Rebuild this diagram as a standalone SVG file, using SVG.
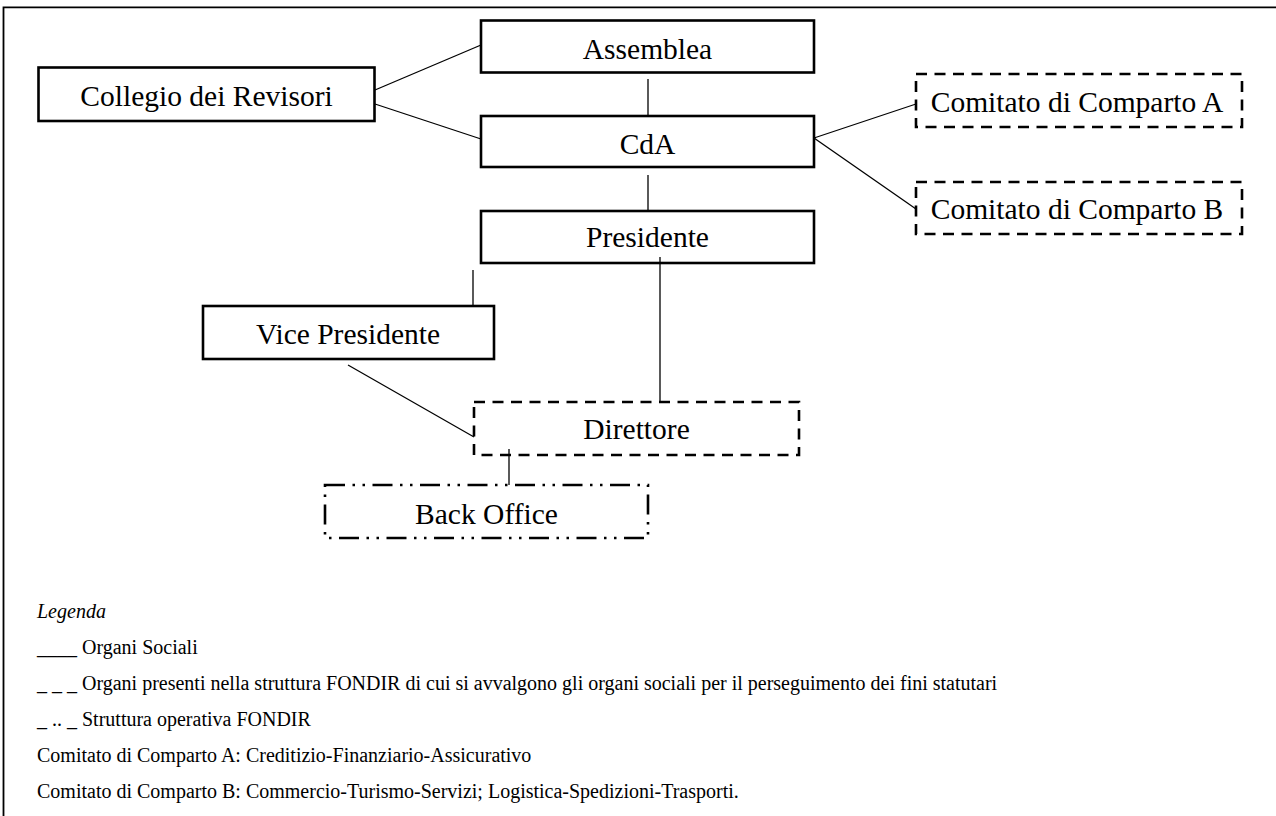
<svg xmlns="http://www.w3.org/2000/svg" width="1276" height="816" viewBox="0 0 1276 816">
<style>
.box{fill:#fff;stroke:#000;stroke-width:2.6}
.dash{stroke-dasharray:11 7.5}
.ldd{stroke-dasharray:20 7.5 2.5 7.5 2.5 7.5}
.lbl{font-family:"Liberation Serif","Times New Roman",serif;font-size:29.5px;fill:#000;text-anchor:middle}
.leg{font-family:"Liberation Serif","Times New Roman",serif;font-size:20px;fill:#000}
.con line{stroke:#000;stroke-width:1.3}
</style>
<rect width="1276" height="816" fill="#fff"/>
<path d="M3.5 816 V7.3 H1276" fill="none" stroke="#000" stroke-width="1.8"/>
<g id="collegio"><rect class="box" x="38.5" y="67.5" width="336" height="53.5"/><text class="lbl" x="206.5" y="106">Collegio dei Revisori</text></g>
<g id="assemblea"><rect class="box" x="481" y="20.5" width="333" height="52"/><text class="lbl" x="647.5" y="58.5">Assemblea</text></g>
<g id="cda"><rect class="box" x="481" y="116" width="333" height="51"/><text class="lbl" x="647.5" y="153.5">CdA</text></g>
<g id="presidente"><rect class="box" x="481" y="211" width="333" height="52"/><text class="lbl" x="647.5" y="247">Presidente</text></g>
<g id="comitato-a"><rect class="box dash" x="916" y="74" width="326" height="53"/><text class="lbl" x="1077" y="112">Comitato di Comparto A</text></g>
<g id="comitato-b"><rect class="box dash" x="916" y="182" width="326" height="52"/><text class="lbl" x="1077" y="218.5">Comitato di Comparto B</text></g>
<g id="vice-presidente"><rect class="box" x="203" y="306" width="291" height="53"/><text class="lbl" x="348" y="343.5">Vice Presidente</text></g>
<g id="direttore"><rect class="box dash" x="474" y="402" width="325" height="53"/><text class="lbl" x="636.5" y="438.5">Direttore</text></g>
<g id="back-office"><rect class="box ldd" x="325" y="485" width="323" height="53"/><text class="lbl" x="486.5" y="523.5">Back Office</text></g>
<g id="connectors" class="con">
<line x1="375" y1="90" x2="481" y2="45"/>
<line x1="375" y1="104" x2="481" y2="139"/>
<line x1="648" y1="79" x2="648" y2="116"/>
<line x1="648" y1="175" x2="648" y2="211"/>
<line x1="814" y1="138" x2="916" y2="104"/>
<line x1="814" y1="138" x2="916" y2="209"/>
<line x1="473" y1="270" x2="473" y2="306"/>
<line x1="660" y1="257" x2="660" y2="402"/>
<line x1="348" y1="365" x2="474" y2="437"/>
<line x1="509" y1="449" x2="509" y2="485"/>
</g>
<g id="legenda">
<text class="leg" x="37" y="618" font-style="italic">Legenda</text>
<text class="leg" x="37" y="654">____ Organi Sociali</text>
<text class="leg" x="37" y="690">_ _ _ Organi presenti nella struttura FONDIR di cui si avvalgono gli organi sociali per il perseguimento dei fini statutari</text>
<text class="leg" x="37" y="726">_ .. _ Struttura operativa FONDIR</text>
<text class="leg" x="37" y="762">Comitato di Comparto A: Creditizio-Finanziario-Assicurativo</text>
<text class="leg" x="37" y="798">Comitato di Comparto B: Commercio-Turismo-Servizi; Logistica-Spedizioni-Trasporti.</text>
</g>
</svg>
